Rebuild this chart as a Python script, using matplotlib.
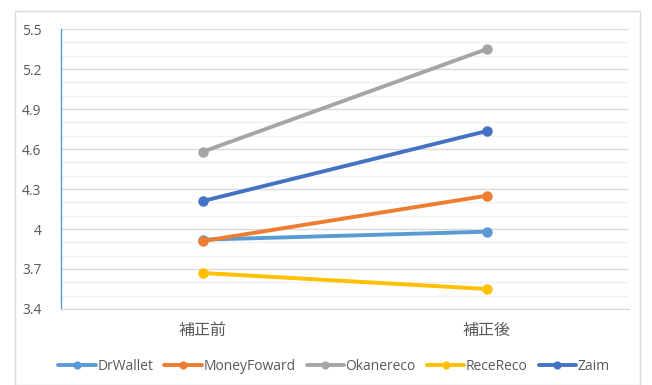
import matplotlib.pyplot as plt
from matplotlib.patches import Rectangle
import numpy as np

plt.rcParams['font.family'] = ['Open Sans', 'Noto Sans CJK JP', 'DejaVu Sans']

categories = ['補正前', '補正後']
series_names = ['DrWallet', 'MoneyFoward', 'Okanereco', 'ReceReco', 'Zaim']
drwallet = [3.92, 3.98]
moneyfoward = [3.91, 4.25]
okanereco = [4.58, 5.35]
rece_reco = [3.67, 3.55]
zaim = [4.21, 4.735]
colors = ['#5B9BD5', '#ED7D31', '#A5A5A5', '#FFC000', '#4472C4']

W, H = 652, 385
fig = plt.figure(figsize=(W / 100, H / 100), dpi=100)
fig.patch.set_facecolor('white')
fig.patches.append(Rectangle((15 / W, 0), 625 / W, 1 - 11 / H, transform=fig.transFigure,
                             fill=False, edgecolor='#D9D9D9', linewidth=1))

ax = fig.add_axes([61 / W, 1 - 309 / H, 568 / W, 280 / H])
x = np.arange(len(categories))
for name, vals, c in zip(series_names, [drwallet, moneyfoward, okanereco, rece_reco, zaim], colors):
    ax.plot(x, vals, color=c, linewidth=2.8, marker='o', markersize=6.5, label=name,
            solid_capstyle='round', zorder=3)

ax.set_xlim(-0.5, 1.5)
ax.set_ylim(3.4, 5.5)
ax.set_yticks(np.arange(3.4, 5.51, 0.3))
ax.set_yticklabels(['3.4', '3.7', '4', '4.3', '4.6', '4.9', '5.2', '5.5'])
ax.set_yticks(np.arange(3.4, 5.51, 0.1), minor=True)
ax.yaxis.grid(True, which='major', color='#D9D9D9', linewidth=1)
ax.yaxis.grid(True, which='minor', color='#F0F0F0', linewidth=1)
ax.set_axisbelow(True)
ax.set_xticks(x)
ax.set_xticklabels(categories)
ax.tick_params(axis='y', which='both', length=0, labelsize=10, labelcolor='#595959', pad=14)
ax.tick_params(axis='x', length=0, labelsize=11.5, labelcolor='#595959', pad=10)
for s in ['top', 'right']:
    ax.spines[s].set_visible(False)
ax.spines['bottom'].set_color('#D9D9D9')
ax.spines['left'].set_color('#5B9BD5')
ax.spines['left'].set_linewidth(1)

fig.legend(loc='center', bbox_to_anchor=(334 / W, 1 - 366 / H), ncol=5, frameon=False,
           fontsize=10, labelcolor='#595959', handlelength=2.7, handletextpad=0.1,
           columnspacing=0.8, markerscale=0.75)

fig.savefig('out.png', dpi=100)
